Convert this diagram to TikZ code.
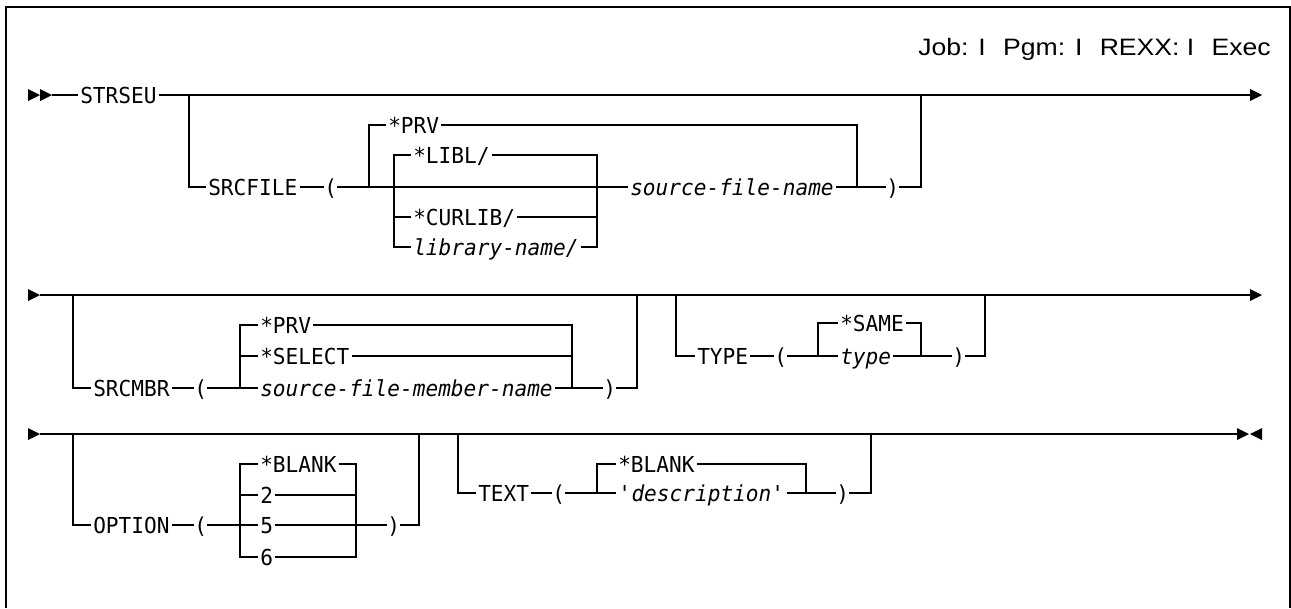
\documentclass[tikz,border=0pt]{standalone}
\usepackage{fontspec}
\newfontfamily\dgmfont[FakeStretch=0.96]{DejaVu Sans Mono}
\newfontfamily\hdrfont[FakeStretch=1.12]{Liberation Sans}
\newcommand\kwf{\dgmfont\fontsize{16.5pt}{19pt}\selectfont}
\newcommand\vrf{\dgmfont\itshape\fontsize{16.5pt}{19pt}\selectfont}
\newcommand\hdf{\hdrfont\fontsize{17.8pt}{20pt}\selectfont}
\begin{document}
\begin{tikzpicture}[x=0.75pt,y=-0.75pt,
  ln/.style={line width=1.1pt},
  kw/.style={inner xsep=1.5pt,inner ysep=0pt,text height=12pt,text depth=0pt,anchor=west,font=\kwf},
  vr/.style={kw,font=\vrf},
  par/.style={kw,inner xsep=0pt},
  hd/.style={anchor=base east,font=\hdf,inner sep=0pt},
  tipfill/.style={fill=black}]
\useasboundingbox (0,0) rectangle (1291,608);
% frame
\draw[line width=1.2pt] (6,608) -- (6,7) -- (1290,7) -- (1290,608);
% header
\node[hd] (hdr) at (1271,55) {Job: I\hspace{13pt}Pgm: I\hspace{13pt}REXX: I\hspace{13pt}Exec};

% ================= Row 1 =================
\fill[tipfill] (28,89) -- (40,95) -- (28,101) -- cycle;
\fill[tipfill] (40,89) -- (52,95) -- (40,101) -- cycle;
\coordinate (r1s) at (52,95);
\coordinate (r1e) at (1250,95);
\fill[tipfill] (1250,89) -- (1262,95) -- (1250,101) -- cycle;
\node[kw] (strseu) at (78,95) {STRSEU};
\draw[ln] (r1s) -- (strseu.west);
\draw[ln] (strseu.east) -- (r1e);
\coordinate (b1) at (189,95);
\coordinate (b1r) at (921,95);
\node[kw] (srcfile) at (206,187) {SRCFILE};
\node[par] (lp1) at (324,187) {(};
\draw[ln] (b1) |- (srcfile.west);
\draw[ln] (srcfile.east) -- (lp1.west);
\node[vr] (sfn) at (628,187) {source-file-name};
\node[par] (rp1) at (886,187) {)};
\draw[ln] (lp1.east) -- (sfn.west);
\draw[ln] (sfn.east) -- (rp1.west);
\draw[ln] (rp1.east) -| (b1r);
% *PRV
\coordinate (b2) at (369,187);
\coordinate (b2r) at (857,187);
\node[kw] (prv1) at (386,125) {*PRV};
\draw[ln] (b2) |- (prv1.west);
\draw[ln] (prv1.east) -| (b2r);
% library group
\coordinate (b3) at (394,187);
\coordinate (b3r) at (597,187);
\node[kw] (libl) at (411,155) {*LIBL/};
\node[kw] (curlib) at (411,217) {*CURLIB/};
\node[vr] (libname) at (411,247) {library-name/};
\draw[ln] (libl.west) -| (b3) |- (libname.west);
\draw[ln] (b3 |- curlib.west) -- (curlib.west);
\coordinate (b3t) at (597,155);
\draw[ln] (libl.east) -- (b3t) |- (libname.east);
\draw[ln] (curlib.east) -- (curlib.east -| b3r);

% ================= Row 2 =================
\fill[tipfill] (28,289) -- (40,295) -- (28,301) -- cycle;
\coordinate (r2s) at (40,295);
\coordinate (r2e) at (1250,295);
\fill[tipfill] (1250,289) -- (1262,295) -- (1250,301) -- cycle;
\draw[ln] (r2s) -- (r2e);
\coordinate (c1) at (73,295);
\coordinate (c1r) at (637,295);
\node[kw] (srcmbr) at (91,388) {SRCMBR};
\node[par] (lp2) at (194,388) {(};
\draw[ln] (c1) |- (srcmbr.west);
\draw[ln] (srcmbr.east) -- (lp2.west);
\node[kw] (prv2) at (258,325) {*PRV};
\node[kw] (select) at (258,356) {*SELECT};
\node[vr] (sfmn) at (258,388) {source-file-member-name};
\node[par] (rp2) at (603,388) {)};
\coordinate (c2) at (240,388);
\coordinate (c2r) at (572,388);
\draw[ln] (lp2.east) -- (sfmn.west);
\draw[ln] (prv2.west) -| (c2);
\draw[ln] (select.west) -- (select.west -| c2);
\draw[ln] (prv2.east) -| (c2r);
\draw[ln] (select.east) -- (select.east -| c2r);
\draw[ln] (sfmn.east) -- (rp2.west);
\draw[ln] (rp2.east) -| (c1r);
% TYPE
\coordinate (c3) at (676,295);
\coordinate (c3r) at (985,295);
\node[kw] (type) at (695,356) {TYPE};
\node[par] (lp3) at (774,356) {(};
\node[kw] (same) at (838,323) {*SAME};
\node[vr] (typev) at (838,356) {type};
\node[par] (rp3) at (952,356) {)};
\coordinate (c4) at (818,356);
\coordinate (c4r) at (921,356);
\draw[ln] (c3) |- (type.west);
\draw[ln] (type.east) -- (lp3.west);
\draw[ln] (lp3.east) -- (typev.west);
\draw[ln] (c4) |- (same.west);
\draw[ln] (same.east) -| (c4r);
\draw[ln] (typev.east) -- (rp3.west);
\draw[ln] (rp3.east) -| (c3r);

% ================= Row 3 =================
\fill[tipfill] (28,428) -- (40,434) -- (28,440) -- cycle;
\coordinate (r3s) at (40,434);
\coordinate (r3e) at (1237,434);
\fill[tipfill] (1237,428) -- (1249,434) -- (1237,440) -- cycle;
\fill[tipfill] (1262,428) -- (1250,434) -- (1262,440) -- cycle;
\draw[ln] (r3s) -- (r3e);
\coordinate (d1) at (73,434);
\coordinate (d1r) at (419,434);
\node[kw] (option) at (91,525) {OPTION};
\node[par] (lp4) at (194,525) {(};
\draw[ln] (d1) |- (option.west);
\draw[ln] (option.east) -- (lp4.west);
\node[kw] (blank1) at (258,464) {*BLANK};
\node[kw] (two) at (258,495) {2};
\node[kw] (five) at (258,525) {5};
\node[kw] (six) at (258,557) {6};
\node[par] (rp4) at (387,525) {)};
\coordinate (d2) at (240,464);
\coordinate (d2b) at (240,557);
\coordinate (d2r) at (356,464);
\coordinate (d2rb) at (356,557);
\draw[ln] (blank1.west) -- (d2) -- (d2b) -- (six.west);
\draw[ln] (two.west -| d2) -- (two.west);
\draw[ln] (lp4.east) -- (five.west);
\draw[ln] (blank1.east) -- (d2r) -- (d2rb) -- (six.east);
\draw[ln] (two.east) -- (two.east -| d2r);
\draw[ln] (five.east) -- (rp4.west);
\draw[ln] (rp4.east) -| (d1r);
% TEXT
\coordinate (d3) at (458,434);
\coordinate (d3r) at (871,434);
\node[kw] (text) at (476,493) {TEXT};
\node[par] (lp5) at (552,493) {(};
\node[kw] (blank2) at (616,464) {*BLANK};
\node[vr] (desc) at (616,493) {\textquotesingle description\textquotesingle};
\node[par] (rp5) at (836,493) {)};
\coordinate (d4) at (597,493);
\coordinate (d4r) at (806,493);
\draw[ln] (d3) |- (text.west);
\draw[ln] (text.east) -- (lp5.west);
\draw[ln] (lp5.east) -- (desc.west);
\draw[ln] (d4) |- (blank2.west);
\draw[ln] (blank2.east) -| (d4r);
\draw[ln] (desc.east) -- (rp5.west);
\draw[ln] (rp5.east) -| (d3r);
\end{tikzpicture}
\end{document}
